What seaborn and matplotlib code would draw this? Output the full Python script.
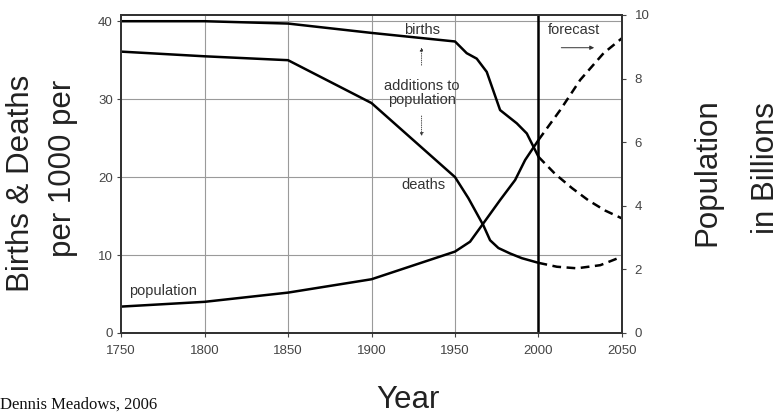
import matplotlib
matplotlib.use("Agg")
import matplotlib.pyplot as plt
import seaborn as sns
import pandas as pd

# ---- data ----
birth_years = [1750, 1800, 1850, 1900, 1950, 1957, 1963, 1969, 1977, 1987, 1993, 2000]
birth_rates = [40.0, 40.0, 39.7, 38.5, 37.4, 35.9, 35.2, 33.5, 28.6, 26.9, 25.6, 22.6]
birth_fc_years = [2000, 2010, 2020, 2030, 2040, 2050]
birth_fc_rates = [22.6, 20.4, 18.6, 17.0, 15.7, 14.7]

death_years = [1750, 1800, 1850, 1900, 1950, 1958, 1967, 1971, 1976, 1983, 1990, 2000]
death_rates = [36.1, 35.5, 35.0, 29.5, 20.0, 17.3, 13.8, 11.9, 10.9, 10.2, 9.6, 9.0]
death_fc_years = [2000, 2011, 2023, 2037, 2050]
death_fc_rates = [9.0, 8.5, 8.3, 8.7, 9.8]

pop_years = [1750, 1800, 1850, 1900, 1950, 1959, 1967, 1977, 1986, 1992, 2000]
pop_billions = [0.83, 0.98, 1.27, 1.69, 2.56, 2.87, 3.45, 4.18, 4.81, 5.44, 6.07]
pop_fc_years = [2000, 2013, 2025, 2039, 2050]
pop_fc_billions = [6.07, 7.01, 7.96, 8.80, 9.27]

x_ticks = [1750, 1800, 1850, 1900, 1950, 2000, 2050]
left_ticks = [0, 10, 20, 30, 40]
right_ticks = [0, 2, 4, 6, 8, 10]

sns.set_theme(style="white")
plt.rcParams['font.family'] = ['Liberation Sans', 'DejaVu Sans']

fig = plt.figure(figsize=(7.81, 4.15), dpi=100)
ax = fig.add_axes([0.155, 0.1976, 0.6414, 0.7663])
ax2 = ax.twinx()

lw = 1.8
dash = (0, (3.5, 2.2))
births = pd.DataFrame({"year": birth_years, "rate": birth_rates})
births_fc = pd.DataFrame({"year": birth_fc_years, "rate": birth_fc_rates})
deaths = pd.DataFrame({"year": death_years, "rate": death_rates})
deaths_fc = pd.DataFrame({"year": death_fc_years, "rate": death_fc_rates})
pop = pd.DataFrame({"year": pop_years, "pop": pop_billions})
pop_fc = pd.DataFrame({"year": pop_fc_years, "pop": pop_fc_billions})

sns.lineplot(data=births, x="year", y="rate", ax=ax, color="black", lw=lw)
sns.lineplot(data=births_fc, x="year", y="rate", ax=ax, color="black", lw=lw, linestyle=dash)
sns.lineplot(data=deaths, x="year", y="rate", ax=ax, color="black", lw=lw)
sns.lineplot(data=deaths_fc, x="year", y="rate", ax=ax, color="black", lw=lw, linestyle=dash)
sns.lineplot(data=pop, x="year", y="pop", ax=ax2, color="black", lw=lw)
sns.lineplot(data=pop_fc, x="year", y="pop", ax=ax2, color="black", lw=lw, linestyle=dash)

ax.set_xlim(1750, 2050)
ax.set_ylim(0, 40.8)
ax2.set_ylim(0, 10)
ax.set_xticks(x_ticks)
ax.set_xticklabels([str(t) for t in x_ticks])
ax.set_yticks(left_ticks)
ax.set_yticklabels([str(t) for t in left_ticks])
ax2.set_yticks(right_ticks)
ax2.set_yticklabels([str(t) for t in right_ticks])
ax.set_xlabel("")
ax.set_ylabel("")
ax2.set_ylabel("")

# grid
for yv in [10, 20, 30, 40]:
    ax.axhline(yv, color="#9a9a9a", lw=0.8, zorder=0)
for xv in [1800, 1850, 1900, 1950]:
    ax.axvline(xv, color="#9a9a9a", lw=0.8, zorder=0)
ax.axvline(2000, color="black", lw=1.8, zorder=3)

for a in (ax, ax2):
    for s in a.spines.values():
        s.set_color("#333333")
        s.set_linewidth(1.4)
tick_col = "#444444"
ax.tick_params(axis="x", which="both", direction="out", length=3, width=0.8,
               labelsize=9.5, colors=tick_col, pad=6, bottom=True)
ax.tick_params(axis="y", which="both", direction="out", length=3, width=0.8,
               labelsize=9.5, colors=tick_col, pad=3, left=True)
ax2.tick_params(axis="y", direction="out", length=3, width=0.8, labelsize=9.5,
                colors=tick_col, right=True, pad=6)

# annotations
fs = 10.5
tc = "#333333"
ax.text(1930, 38.9, "births", fontsize=fs, ha="center", va="center", color=tc)
ax.text(1930, 30.8, "additions to\npopulation", fontsize=fs, ha="center", va="center",
        color=tc, linespacing=1.0)
ax.annotate("", xy=(1930, 37.0), xytext=(1930, 34.0),
            arrowprops=dict(arrowstyle="-|>", lw=0.6, ls=":", color="#333333",
                            mutation_scale=5))
ax.annotate("", xy=(1930, 24.9), xytext=(1930, 28.2),
            arrowprops=dict(arrowstyle="-|>", lw=0.6, ls=":", color="#333333",
                            mutation_scale=5))
ax.text(1931, 19.0, "deaths", fontsize=fs, ha="center", va="center", color=tc)
ax.text(1775, 5.4, "population", fontsize=fs, ha="center", va="center", color=tc)
ax.text(2021, 38.9, "forecast", fontsize=fs, ha="center", va="center", color=tc)
ax.annotate("", xy=(2035, 36.6), xytext=(2012, 36.6),
            arrowprops=dict(arrowstyle="-|>", lw=0.7, color="#333333", mutation_scale=6))

# axis titles
tfs = 22.5
fig.text(21 / 781, 1 - 183 / 415, "Births & Deaths", rotation=90, fontsize=tfs,
         ha="center", va="center", color="#222222")
fig.text(63 / 781, 1 - 168 / 415, "per 1000 per", rotation=90, fontsize=tfs,
         ha="center", va="center", color="#222222")
fig.text(707 / 781, 1 - 172 / 415, "Population", rotation=90, fontsize=tfs,
         ha="center", va="center", color="#222222")
fig.text(766 / 781, 1 - 168 / 415, "in Billions", rotation=90, fontsize=tfs,
         ha="center", va="center", color="#222222")
fig.text(408 / 781, 1 - 400 / 415, "Year", fontsize=tfs, ha="center", va="center",
         color="#222222")
fig.text(0.0, 1 - 405 / 415, "Dennis Meadows, 2006", fontsize=12, ha="left", va="center",
         family=["Liberation Serif"], color="#111111")

fig.savefig("out.png", dpi=100)
